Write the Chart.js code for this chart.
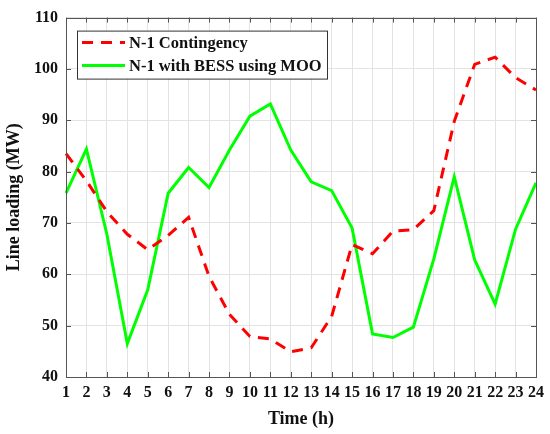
<!DOCTYPE html>
<html>
<head>
<meta charset="utf-8">
<script src="https://cdn.jsdelivr.net/npm/chart.js@4"></script>
<style>
  html, body { margin: 0; padding: 0; background: #fff; }
  #wrap { width: 550px; height: 434px; }
</style>
</head>
<body>
<div id="wrap"><canvas id="chart" width="550" height="434"></canvas></div>
<script>
const hours = ['1','2','3','4','5','6','7','8','9','10','11','12','13','14','15','16','17','18','19','20','21','22','23','24'];
const contingency = [83.5, 78.2, 72.2, 67.8, 64.8, 67.6, 71.1, 59.6, 52.2, 47.9, 47.4, 44.9, 45.7, 51.8, 65.8, 64.0, 68.4, 68.7, 72.4, 89.8, 100.9, 102.3, 98.3, 95.9];
const withBess = [75.8, 84.4, 67.8, 46.5, 57.0, 75.8, 80.8, 76.9, 84.2, 90.8, 93.2, 84.2, 78.0, 76.3, 69.0, 48.4, 47.7, 49.7, 63.0, 79.0, 62.8, 54.2, 68.8, 77.8];
const seriesNames = ['N-1 Contingency', 'N-1 with BESS using MOO'];

const serif = '"Liberation Serif", "DejaVu Serif", serif';

// box round the plot, inward ticks and the MATLAB-style legend
const frame = {
  id: 'frame',
  afterDatasetsDraw(chart) {
    const { ctx, chartArea: a, scales } = chart;
    ctx.save();
    ctx.strokeStyle = '#555';
    ctx.lineWidth = 1;
    ctx.beginPath();
    scales.x.ticks.forEach((t, i) => {
      const px = Math.round(scales.x.getPixelForTick(i)) + 0.5;
      ctx.moveTo(px, a.bottom); ctx.lineTo(px, a.bottom - 5);
      ctx.moveTo(px, a.top); ctx.lineTo(px, a.top + 5);
    });
    scales.y.ticks.forEach(t => {
      const py = Math.round(scales.y.getPixelForValue(t.value)) + 0.5;
      ctx.moveTo(a.left, py); ctx.lineTo(a.left + 5, py);
      ctx.moveTo(a.right, py); ctx.lineTo(a.right - 5, py);
    });
    ctx.stroke();
    ctx.strokeRect(Math.round(a.left) + 0.5, Math.round(a.top) + 0.5, Math.round(a.right - a.left), Math.round(a.bottom - a.top));

    // legend
    const lx = a.left + 11, ly = a.top + 13, lw = 250, lh = 48;
    ctx.fillStyle = '#fff';
    ctx.fillRect(lx, ly, lw, lh);
    ctx.strokeStyle = '#333';
    ctx.strokeRect(lx + 0.5, ly + 0.5, lw, lh);
    chart.data.datasets.forEach((ds, i) => {
      const y = ly + 12 + i * 23;
      ctx.strokeStyle = ds.borderColor;
      ctx.lineWidth = 3;
      ctx.setLineDash(ds.borderDash || []);
      ctx.beginPath();
      ctx.moveTo(lx + 5, y); ctx.lineTo(lx + 48, y);
      ctx.stroke();
      ctx.setLineDash([]);
      ctx.fillStyle = '#111';
      ctx.font = 'bold 16.5px ' + serif;
      ctx.textBaseline = 'middle';
      ctx.fillText(ds.label, lx + 52, y + 1);
    });
    ctx.restore();
  }
};

new Chart(document.getElementById('chart').getContext('2d'), {
  type: 'line',
  data: {
    labels: hours,
    datasets: [
      {
        label: seriesNames[0],
        data: contingency,
        borderColor: '#ff0000',
        borderWidth: 3,
        borderDash: [11, 8],
        pointRadius: 0,
        tension: 0,
        fill: false,
      },
      {
        label: seriesNames[1],
        data: withBess,
        borderColor: '#00ff00',
        borderWidth: 3,
        pointRadius: 0,
        tension: 0,
        fill: false,
      },
    ],
  },
  options: {
    responsive: false,
    animation: false,
    layout: { padding: { top: 11, right: 14, left: 0, bottom: 0 } },
    plugins: { legend: { display: false }, tooltip: { enabled: false } },
    scales: {
      x: {
        offset: false,
        grid: { color: '#e3e3e3', drawTicks: false },
        border: { display: false },
        ticks: { color: '#111', font: { family: serif, weight: 'bold', size: 16 }, padding: 6, maxRotation: 0, autoSkip: false },
        title: { display: true, text: 'Time (h)', color: '#111', font: { family: serif, weight: 'bold', size: 18 }, padding: { top: 4 } },
        afterFit: s => { s.height = 57; },
      },
      y: {
        min: 40,
        max: 110,
        grid: { color: '#e3e3e3', drawTicks: false },
        border: { display: false },
        ticks: { stepSize: 10, color: '#111', font: { family: serif, weight: 'bold', size: 16 }, padding: 8 },
        title: { display: true, text: 'Line loading (MW)', color: '#111', font: { family: serif, weight: 'bold', size: 18 } },
        afterFit: s => { s.width = 66; },
      },
    },
  },
  plugins: [frame],
});
</script>
</body>
</html>
